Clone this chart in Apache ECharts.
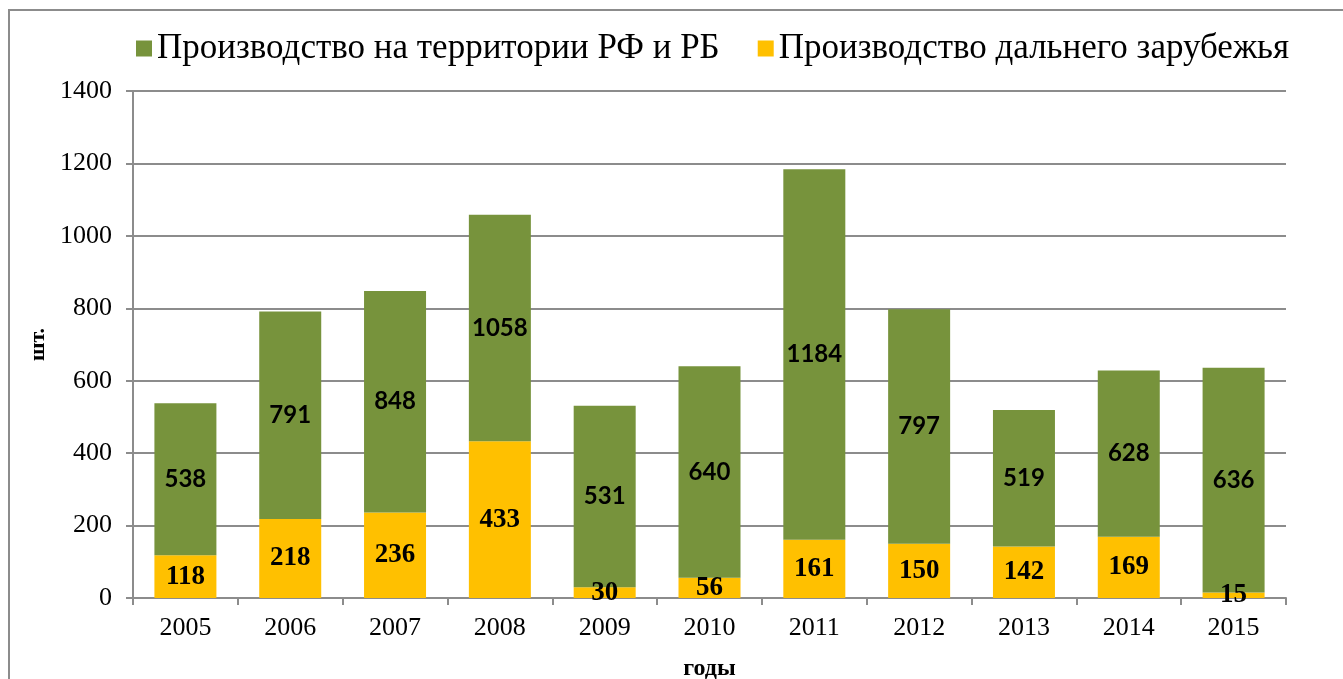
<!DOCTYPE html>
<html>
<head>
<meta charset="utf-8">
<script src="https://cdn.jsdelivr.net/npm/echarts@6/dist/echarts.min.js"></script>
<style>
  html, body { margin: 0; padding: 0; background: #fff; overflow: hidden; }
  #chart { width: 1343px; height: 679px; }
</style>
</head>
<body>
<div id="chart"></div>
<script>
const years = ['2005', '2006', '2007', '2008', '2009', '2010', '2011', '2012', '2013', '2014', '2015']
const domestic = [538, 791, 848, 1058, 531, 640, 1184, 797, 519, 628, 636]
const foreign = [118, 218, 236, 433, 30, 56, 161, 150, 142, 169, 15]
const yTicks = { min: 0, max: 1400, interval: 200 }

const serif = '"Liberation Serif", "Times New Roman", serif'
const gridColor = '#8c8c8c'

const chart = echarts.init(document.getElementById('chart'))

// green bar reaches the domestic value, the yellow one is drawn from 0 under it
const greenPart = domestic.map((v, i) => v - foreign[i])

const option = {
  animation: false,
  graphic: [
    {
      type: 'rect',
      shape: { x: 9, y: 10, width: 1600, height: 800 },
      style: { fill: 'none', stroke: gridColor, lineWidth: 2 }
    }
  ],
  legend: {
    data: ['Производство на территории РФ и РБ', 'Производство дальнего зарубежья'],
    left: 131,
    top: 26,
    itemWidth: 16,
    itemHeight: 16,
    itemGap: 38,
    icon: 'rect',
    textStyle: {
      fontFamily: serif,
      fontSize: 35,
      color: '#000'
    }
  },
  grid: {
    left: 133,
    right: 57,
    top: 91,
    bottom: 81,
    containLabel: false,
    outerBoundsMode: 'none'
  },
  xAxis: {
    type: 'category',
    data: years,
    name: 'годы',
    nameLocation: 'middle',
    nameGap: 59,
    nameTextStyle: {
      fontFamily: serif,
      fontSize: 24,
      fontWeight: 'bold',
      color: '#000'
    },
    axisLine: { lineStyle: { color: gridColor, width: 2 } },
    axisTick: { show: true, length: 7, lineStyle: { color: gridColor, width: 2 } },
    axisLabel: {
      fontFamily: serif,
      fontSize: 26,
      color: '#000',
      margin: 17
    }
  },
  yAxis: {
    type: 'value',
    min: yTicks.min,
    max: yTicks.max,
    interval: yTicks.interval,
    name: 'шт.',
    nameLocation: 'middle',
    nameGap: 80,
    nameRotate: 90,
    nameTextStyle: {
      fontFamily: serif,
      fontSize: 22,
      fontWeight: 'bold',
      color: '#000'
    },
    axisLine: { show: true, lineStyle: { color: gridColor, width: 2 } },
    axisTick: { show: true, length: 7, lineStyle: { color: gridColor, width: 2 } },
    axisLabel: {
      fontFamily: serif,
      fontSize: 26,
      color: '#000',
      margin: 21,
      formatter: (v) => String(v)
    },
    splitLine: { lineStyle: { color: gridColor, width: 2 } }
  },
  series: [
    {
      name: 'Производство дальнего зарубежья',
      type: 'bar',
      stack: 'total',
      barWidth: 62,
      data: foreign,
      itemStyle: { color: '#FFC000' },
      label: {
        show: true,
        position: 'inside',
        fontFamily: serif,
        fontSize: 27,
        fontWeight: 'bold',
        color: '#000'
      }
    },
    {
      name: 'Производство на территории РФ и РБ',
      type: 'bar',
      stack: 'total',
      barWidth: 62,
      data: greenPart,
      itemStyle: { color: '#77933C' },
      label: {
        show: true,
        position: 'inside',
        fontFamily: 'Lato, "Open Sans", sans-serif',
        fontSize: 24,
        fontWeight: 'bold',
        color: '#000',
        formatter: (p) => domestic[p.dataIndex]
      }
    }
  ]
}

chart.setOption(option)
</script>
</body>
</html>
